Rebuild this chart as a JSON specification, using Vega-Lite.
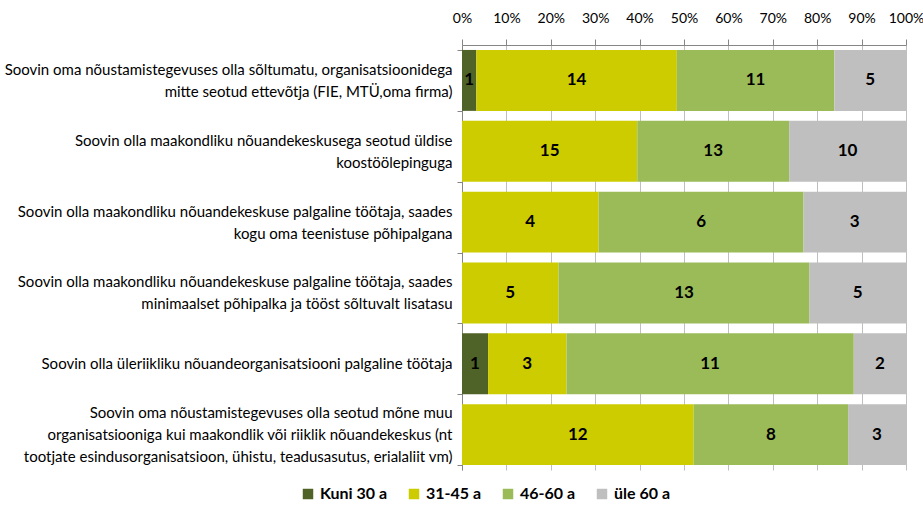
{
  "$schema": "https://vega.github.io/schema/vega-lite/v6.json",
  "width": 444,
  "height": 425,
  "autosize": {"type": "none"},
  "padding": {"left": 462, "top": 45, "right": 17, "bottom": 36},
  "background": "white",
  "config": {
    "view": {"stroke": null},
    "font": "Lato"
  },
  "data": {
    "values": [
      {"q": "Soovin oma nõustamistegevuses olla sõltumatu, organisatsioonidega|mitte seotud ettevõtja (FIE, MTÜ,oma firma)", "g": "Kuni 30 a", "n": 1},
      {"q": "Soovin oma nõustamistegevuses olla sõltumatu, organisatsioonidega|mitte seotud ettevõtja (FIE, MTÜ,oma firma)", "g": "31-45 a", "n": 14},
      {"q": "Soovin oma nõustamistegevuses olla sõltumatu, organisatsioonidega|mitte seotud ettevõtja (FIE, MTÜ,oma firma)", "g": "46-60 a", "n": 11},
      {"q": "Soovin oma nõustamistegevuses olla sõltumatu, organisatsioonidega|mitte seotud ettevõtja (FIE, MTÜ,oma firma)", "g": "üle 60 a", "n": 5},
      {"q": "Soovin olla maakondliku nõuandekeskusega seotud üldise|koostöölepinguga", "g": "31-45 a", "n": 15},
      {"q": "Soovin olla maakondliku nõuandekeskusega seotud üldise|koostöölepinguga", "g": "46-60 a", "n": 13},
      {"q": "Soovin olla maakondliku nõuandekeskusega seotud üldise|koostöölepinguga", "g": "üle 60 a", "n": 10},
      {"q": "Soovin olla maakondliku nõuandekeskuse palgaline töötaja, saades|kogu oma teenistuse põhipalgana", "g": "31-45 a", "n": 4},
      {"q": "Soovin olla maakondliku nõuandekeskuse palgaline töötaja, saades|kogu oma teenistuse põhipalgana", "g": "46-60 a", "n": 6},
      {"q": "Soovin olla maakondliku nõuandekeskuse palgaline töötaja, saades|kogu oma teenistuse põhipalgana", "g": "üle 60 a", "n": 3},
      {"q": "Soovin olla maakondliku nõuandekeskuse palgaline töötaja, saades|minimaalset põhipalka ja tööst sõltuvalt lisatasu", "g": "31-45 a", "n": 5},
      {"q": "Soovin olla maakondliku nõuandekeskuse palgaline töötaja, saades|minimaalset põhipalka ja tööst sõltuvalt lisatasu", "g": "46-60 a", "n": 13},
      {"q": "Soovin olla maakondliku nõuandekeskuse palgaline töötaja, saades|minimaalset põhipalka ja tööst sõltuvalt lisatasu", "g": "üle 60 a", "n": 5},
      {"q": "Soovin olla üleriikliku nõuandeorganisatsiooni palgaline töötaja", "g": "Kuni 30 a", "n": 1},
      {"q": "Soovin olla üleriikliku nõuandeorganisatsiooni palgaline töötaja", "g": "31-45 a", "n": 3},
      {"q": "Soovin olla üleriikliku nõuandeorganisatsiooni palgaline töötaja", "g": "46-60 a", "n": 11},
      {"q": "Soovin olla üleriikliku nõuandeorganisatsiooni palgaline töötaja", "g": "üle 60 a", "n": 2},
      {"q": "Soovin oma nõustamistegevuses olla seotud mõne muu|organisatsiooniga kui maakondlik või riiklik nõuandekeskus (nt|tootjate esindusorganisatsioon, ühistu, teadusasutus, erialaliit vm)", "g": "31-45 a", "n": 12},
      {"q": "Soovin oma nõustamistegevuses olla seotud mõne muu|organisatsiooniga kui maakondlik või riiklik nõuandekeskus (nt|tootjate esindusorganisatsioon, ühistu, teadusasutus, erialaliit vm)", "g": "46-60 a", "n": 8},
      {"q": "Soovin oma nõustamistegevuses olla seotud mõne muu|organisatsiooniga kui maakondlik või riiklik nõuandekeskus (nt|tootjate esindusorganisatsioon, ühistu, teadusasutus, erialaliit vm)", "g": "üle 60 a", "n": 3}
    ]
  },
  "transform": [
    {"calculate": "indexof(['Kuni 30 a', '31-45 a', '46-60 a', 'üle 60 a'], datum.g)", "as": "k"}
  ],
  "encoding": {
    "y": {
      "field": "q",
      "type": "nominal",
      "sort": null,
      "title": null,
      "scale": {"paddingInner": 0.14, "paddingOuter": 0.07},
      "axis": {
        "labelExpr": "split(datum.label, '|')",
        "labelFontSize": 15,
        "labelColor": "#000000",
        "labelLineHeight": 22,
        "labelLimit": 470,
        "labelPadding": 5,
        "labelOffset": {"expr": "-(length(split(datum.label, '|')) - 1) * 11"},
        "tickSize": 5,
        "tickBand": "extent",
        "tickColor": "#868686",
        "domainColor": "#868686",
        "labelAlign": "right"
      }
    },
    "order": {"field": "k", "type": "quantitative", "sort": "ascending"}
  },
  "layer": [
    {
      "mark": {"type": "bar"},
      "encoding": {
        "x": {
          "field": "n",
          "type": "quantitative",
          "stack": "normalize",
          "title": null,
          "scale": {"domain": [0, 1], "nice": false},
          "axis": {
            "orient": "top",
            "values": [0, 0.1, 0.2, 0.3, 0.4, 0.5, 0.6, 0.7, 0.8, 0.9, 1],
            "format": ".0%",
            "labelFontSize": 14,
            "labelColor": "#000000",
            "labelPadding": 14,
            "tickSize": 6,
            "tickColor": "#868686",
            "domainColor": "#868686",
            "grid": true,
            "gridColor": "#bfbfbf",
            "labelFlush": false
          }
        },
        "color": {
          "field": "g",
          "type": "nominal",
          "sort": ["Kuni 30 a", "31-45 a", "46-60 a", "üle 60 a"],
          "scale": {
            "domain": ["Kuni 30 a", "31-45 a", "46-60 a", "üle 60 a"],
            "range": ["#4f6228", "#cccc00", "#9bbb59", "#bfbfbf"]
          },
          "legend": {
            "title": null,
            "orient": "none",
            "direction": "horizontal",
            "legendX": -162,
            "legendY": 441,
            "symbolType": "square",
            "symbolSize": 110,
            "symbolStrokeWidth": 0,
            "labelFontSize": 16,
            "labelFontWeight": "bold",
            "labelColor": "#000000",
            "labelOffset": 4,
            "columnPadding": 18
          }
        }
      }
    },
    {
      "mark": {"type": "text", "fontSize": 17, "fontWeight": "bold", "color": "#000000", "baseline": "middle"},
      "encoding": {
        "x": {"field": "n", "type": "quantitative", "stack": "normalize", "bandPosition": 0.5},
        "detail": {"field": "g", "type": "nominal"},
        "text": {"field": "n", "type": "quantitative"}
      }
    }
  ]
}
